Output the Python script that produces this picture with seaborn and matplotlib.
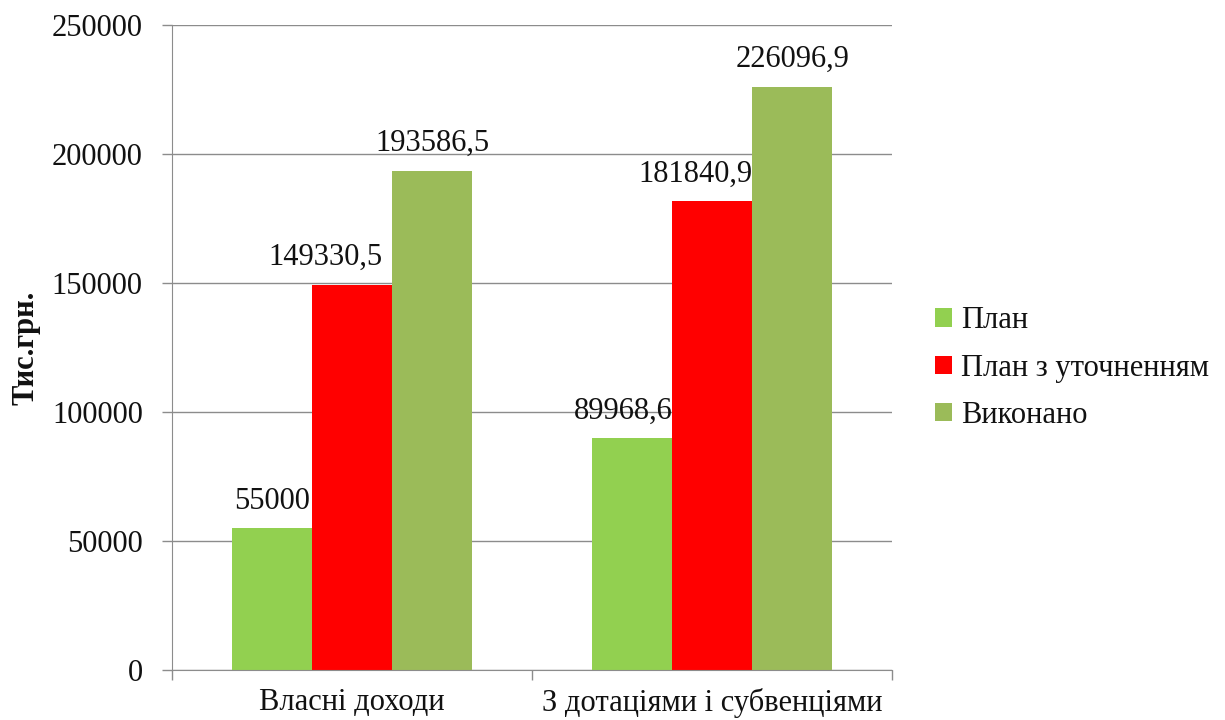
import pandas as pd
import seaborn as sns
import matplotlib.pyplot as plt
from matplotlib.ticker import FixedLocator

categories = ['Власні доходи', 'З дотаціями і субвенціями']
series = ['План', 'План з уточненням', 'Виконано']
plan = [55000, 89968.6]
plan_refined = [149330.5, 181840.9]
done = [193586.5, 226096.9]
colors = ['#92D050', '#FF0000', '#9BBB59']

df = pd.DataFrame({
    'cat': categories * 3,
    'series': [s for s in series for _ in categories],
    'value': plan + plan_refined + done,
})

sns.set_style('white')
plt.rcParams['font.family'] = ['Liberation Serif', 'DejaVu Serif']
FS = 22
TXT = '#111111'

fig = plt.figure(figsize=(12.25, 7.2), dpi=100)
ax = fig.add_axes([0.1404, 0.0694, 0.5878, 0.8958])

sns.barplot(data=df, x='cat', y='value', hue='series', hue_order=series,
            palette=colors, width=0.667, gap=0, saturation=1, ax=ax,
            errorbar=None, linewidth=0)

def fmt(v):
    s = f'{v:.1f}'.rstrip('0').rstrip('.')
    return s.replace('.', ',')

# excel nudges some labels left so they don't collide with the next bar
nudge = [[0, -6], [-19, -12], [0, 0]]
for i, cont in enumerate(ax.containers):
    for j, rect in enumerate(cont.patches):
        v = rect.get_height()
        ax.annotate(fmt(v), (rect.get_x() + rect.get_width() / 2, v),
                    xytext=(nudge[i][j], 9), textcoords='offset points',
                    ha='center', va='bottom', fontsize=FS, color=TXT)

ax.set_xlim(-0.5, 1.5)
ax.set_ylim(0, 250000)
ax.set_yticks(range(0, 250001, 50000))
ax.yaxis.grid(True, color='#8c8c8c', linewidth=1)
ax.set_axisbelow(True)
ax.tick_params(axis='y', left=True, length=7, width=1, color='#8c8c8c',
               labelsize=FS, pad=14, labelcolor=TXT)
ax.tick_params(axis='x', which='major', bottom=True, length=0, labelsize=FS,
               pad=13, labelcolor=TXT)
ax.xaxis.set_minor_locator(FixedLocator([-0.5, 0.5, 1.5]))
ax.tick_params(axis='x', which='minor', bottom=True, length=7, width=1,
               color='#8c8c8c')
for s in ['top', 'right']:
    ax.spines[s].set_visible(False)
for s in ['left', 'bottom']:
    ax.spines[s].set_color('#8c8c8c')
ax.set_xlabel('')
ax.set_ylabel('Тис.грн.', fontsize=FS, fontweight='bold', color=TXT)
ax.yaxis.set_label_coords(-0.183, 0.5)

leg = ax.legend(loc='center left', bbox_to_anchor=(1.06, 0.468), frameon=False,
                fontsize=FS, handlelength=0.55, handleheight=0.55,
                handletextpad=0.3, labelspacing=0.6, borderpad=0,
                borderaxespad=0)
for t in leg.get_texts():
    t.set_color(TXT)

fig.savefig('out.png', dpi=100)
